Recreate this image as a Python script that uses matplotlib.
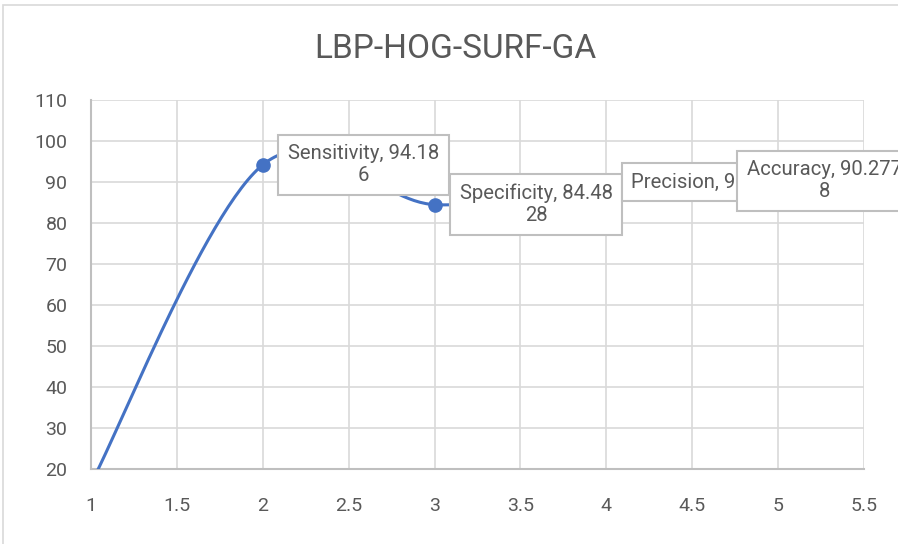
import numpy as np
import matplotlib
matplotlib.use("Agg")
import matplotlib.pyplot as plt
import matplotlib.patches as patches

## data
x_vals = [1, 2, 3, 4, 5]
y_vals = [16.5, 94.186, 84.4828, 90.0, 90.2778]
names = ["", "Sensitivity", "Specificity", "Precision", "Accuracy"]
label_texts = ["", "Sensitivity, 94.18\n6", "Specificity, 84.48\n28",
               "Precision, 90.0", "Accuracy, 90.277\n8"]

plt.rcParams['font.family'] = ['Roboto', 'DejaVu Sans']

## excel-like smoothed line (cubic bezier through the points)
def smooth(xs, ys, n=60):
    P = np.column_stack([xs, ys]).astype(float)
    out = []
    for i in range(len(P) - 1):
        p0 = P[i]
        p3 = P[i + 1]
        prev = P[i - 1] if i > 0 else P[i]
        nxt = P[i + 2] if i + 2 < len(P) else P[i + 1]
        c1 = p0 + (p3 - prev) / 6
        c2 = p3 - (nxt - p0) / 6
        t = np.linspace(0, 1, n)[:, None]
        seg = (1-t)**3*p0 + 3*(1-t)**2*t*c1 + 3*(1-t)*t**2*c2 + t**3*p3
        out.append(seg)
    out = np.vstack(out)
    return out[:, 0], out[:, 1]

fig = plt.figure(figsize=(8.98, 5.44), dpi=100)
ax = fig.add_axes([91/898, 1-469/544, (864-91)/898, (469-100)/544])

sx, sy = smooth(x_vals, y_vals)
ax.plot(sx, sy, color="#4472C4", lw=2.2, zorder=3, solid_capstyle="round")
ax.plot(x_vals[1:], y_vals[1:], "o", color="#4472C4", ms=9.5, zorder=4)

ax.set_xlim(1, 5.5)
ax.set_ylim(20, 110)
ax.set_xticks(np.arange(1, 5.51, 0.5))
ax.set_xticklabels(["1", "1.5", "2", "2.5", "3", "3.5", "4", "4.5", "5", "5.5"])
ax.set_yticks(np.arange(20, 111, 10))
ax.grid(True, color="#d9d9d9", lw=1.2)
ax.set_axisbelow(True)
for s in ["top", "right"]:
    ax.spines[s].set_visible(False)
for s in ["left", "bottom"]:
    ax.spines[s].set_color("#bfbfbf")
    ax.spines[s].set_linewidth(1.5)
ax.tick_params(length=0, colors="#595959", labelsize=14)
ax.tick_params(axis="y", pad=17)
ax.tick_params(axis="x", pad=20)

fig.text(455/898, 1 - 58/544, "LBP-HOG-SURF-GA", fontsize=24, color="#595959",
         ha="center", va="baseline")

## data labels, offsets in pixels from the marker
offsets = [None, (25, 0), (25, 0), (25, 0), (-31, 0)]
for i in range(1, len(x_vals)):
    ax.annotate(label_texts[i], xy=(x_vals[i], y_vals[i]), xytext=offsets[i],
                textcoords="offset pixels", ha="left", va="center",
                multialignment="center", fontsize=14.6, color="#595959",
                annotation_clip=False, zorder=5 + i,
                bbox=dict(boxstyle="square,pad=0.48", fc="white",
                          ec="#bfbfbf", lw=1.5))

fig.patches.append(patches.Rectangle((3/898, -0.1), 1.2, 1.1 - 5/544,
                                     transform=fig.transFigure, fill=False,
                                     ec="#d9d9d9", lw=1.2))

fig.savefig("out.png", dpi=100)
